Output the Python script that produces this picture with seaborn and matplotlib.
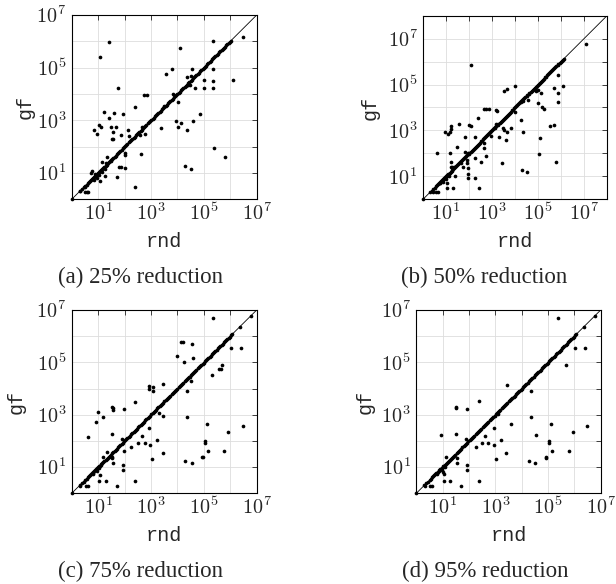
import matplotlib

matplotlib.use("Agg")
import matplotlib.pyplot as plt
import numpy as np
import pandas as pd
import seaborn as sns
from matplotlib.ticker import NullFormatter


# All values are log10 of the counts.
# Points off the diagonal: (rnd, gf) pairs split into two lists.
a_rnd = [1.43, 1.06, 4.10, 5.36, 6.49, 6.12, 3.57, 3.78, 4.56, 4.38, 4.52, 4.99, 5.00,
         5.36, 5.36, 5.36, 4.68, 4.48, 1.75, 2.74, 2.86, 3.85, 4.01, 2.40, 1.24, 1.60,
         1.94, 1.41, 0.86, 0.97, 1.02, 1.11, 1.49, 1.58, 1.68, 1.51, 1.55, 2.12, 2.18,
         1.85, 2.57, 2.77, 2.65, 3.38, 3.95, 4.01, 4.12, 4.60, 4.38, 4.86, 5.37, 5.79,
         4.30, 4.53, 2.64, 2.41, 2.00, 2.02, 2.00, 1.78, 1.85, 1.71, 1.32, 1.15, 1.26,
         1.07, 0.72, 0.78, 0.59, 0.50, 0.63, 0.32, 0.49, 0.85, 0.95, 1.05, 1.16, 1.25,
         0.90, 1.30, 1.50, 3.50, 4.40]
a_gf = [5.97, 5.42, 5.76, 6.01, 6.16, 4.53, 4.76, 4.94, 4.95, 4.63, 4.70, 4.53, 4.22,
        4.94, 4.49, 4.22, 4.22, 4.34, 4.24, 3.97, 3.97, 4.00, 3.68, 3.52, 3.30, 3.27,
        3.23, 3.10, 2.63, 2.47, 2.82, 2.73, 2.75, 2.57, 2.75, 2.28, 2.28, 2.63, 2.42,
        2.46, 2.46, 2.47, 2.75, 2.72, 2.99, 2.75, 2.91, 2.97, 2.63, 3.23, 1.94, 1.62,
        1.27, 1.15, 1.72, 0.48, 1.67, 1.75, 1.19, 1.22, 1.22, 0.85, 1.59, 1.41, 0.90,
        0.68, 1.01, 1.06, 0.29, 0.29, 0.29, 0.30, 0.46, 0.72, 0.80, 0.92, 1.05, 1.15,
        0.97, 1.36, 1.44, 3.56, 4.35]

b_rnd = [7.07, 2.09, 5.87, 5.70, 6.09, 5.87, 5.87, 5.19, 5.25, 5.00, 5.00, 5.14, 4.93,
         3.99, 3.54, 3.67, 4.57, 4.28, 4.35, 4.01, 4.28, 4.35, 5.10, 5.04, 5.80, 5.70,
         5.51, 4.30, 4.52, 3.43, 3.84, 3.67, 3.59, 3.52, 3.49, 3.29, 3.19, 3.12, 3.20,
         3.16, 2.97, 2.74, 2.64, 2.65, 2.51, 2.39, 2.65, 2.75, 2.87, 2.25, 2.25, 1.99,
         2.10, 1.96, 1.81, 1.84, 1.93, 1.93, 1.96, 1.96, 1.96, 1.74, 1.67, 2.25, 2.42,
         1.49, 1.57, 1.20, 1.20, 1.16, 0.97, 1.09, 1.16, 0.62, 1.23, 1.33, 1.38, 1.20,
         1.27, 1.06, 1.29, 1.06, 0.43, 0.58, 0.65, 0.94, 0.72, 0.85, 1.00, 1.12]
b_gf = [6.78, 5.85, 5.41, 4.83, 4.93, 4.62, 4.25, 4.03, 3.93, 4.18, 4.76, 4.62, 4.72,
        4.93, 4.72, 4.79, 4.33, 4.25, 4.30, 3.79, 3.45, 2.92, 2.68, 1.97, 1.64, 3.24,
        3.21, 1.28, 1.18, 1.57, 3.12, 2.92, 2.58, 3.02, 3.12, 2.73, 3.27, 3.12, 3.85,
        3.89, 2.76, 1.89, 2.47, 2.22, 1.64, 3.53, 3.92, 3.92, 3.93, 1.79, 2.73, 3.22,
        3.19, 2.00, 2.73, 2.08, 1.71, 1.56, 1.35, 1.10, 0.91, 1.42, 1.56, 0.91, 0.48,
        2.29, 3.30, 3.21, 3.05, 2.95, 2.95, 2.83, 2.00, 2.00, 1.64, 1.42, 1.02, 1.42,
        1.42, 0.73, 0.48, 0.48, 0.30, 0.30, 0.30, 0.91, 0.73, 0.74, 0.88, 1.02]

c_rnd = [5.36, 4.14, 4.20, 4.54, 3.97, 4.26, 4.58, 6.03, 6.41, 5.67, 5.57, 5.64, 5.30,
         4.48, 4.51, 4.35, 3.47, 2.94, 3.09, 2.94, 3.09, 4.35, 3.32, 3.44, 5.11, 2.94,
         3.24, 3.44, 3.04, 4.29, 4.54, 4.92, 4.95, 5.04, 5.04, 5.17, 5.78, 5.93, 6.49,
         2.40, 1.53, 1.58, 1.56, 1.98, 1.20, 0.98, 0.92, 1.51, 0.63, 1.89, 2.52, 2.65,
         2.77, 2.96, 2.24, 1.99, 1.32, 1.17, 1.51, 1.51, 1.95, 1.95, 1.55, 1.07, 1.30,
         1.05, 1.73, 2.40, 0.63, 0.54, 0.32, 0.80, 0.95, 1.05]
c_gf = [6.68, 5.76, 5.76, 5.69, 5.24, 5.03, 5.15, 5.53, 5.56, 4.90, 4.75, 4.75, 4.52,
        4.45, 4.30, 3.92, 4.16, 4.10, 4.05, 3.97, 3.92, 2.90, 3.05, 2.96, 2.65, 2.49,
        2.04, 1.53, 1.30, 1.25, 1.15, 1.37, 1.37, 2.01, 1.93, 1.63, 1.62, 2.35, 2.57,
        3.50, 3.28, 3.24, 3.20, 3.22, 2.93, 3.10, 2.71, 2.25, 2.16, 2.06, 1.93, 2.19,
        1.91, 1.84, 1.76, 1.62, 1.56, 1.40, 1.40, 1.34, 1.08, 0.89, 1.17, 0.70, 0.47,
        0.47, 0.29, 0.47, 0.29, 0.29, 0.29, 0.72, 0.86, 0.95]

d_rnd = [5.38, 6.01, 6.39, 5.67, 3.46, 4.34, 2.38, 1.49, 1.52, 1.94, 4.34, 3.10, 3.61,
         5.10, 2.95, 0.95, 1.49, 1.90, 2.62, 2.25, 2.48, 2.73, 2.95, 3.23, 4.56, 5.03,
         5.03, 3.42, 3.01, 4.27, 4.52, 4.91, 4.94, 5.15, 5.78, 5.95, 6.49, 1.14, 1.53,
         1.53, 1.94, 1.94, 1.05, 1.05, 1.28, 1.71, 2.38, 0.59, 0.51, 0.32, 0.99, 1.01,
         0.80, 1.10]
d_gf = [6.68, 5.53, 5.56, 4.90, 4.13, 3.92, 3.52, 3.25, 3.31, 3.22, 2.90, 3.03, 2.65,
        2.65, 2.49, 2.23, 2.25, 2.06, 2.19, 1.76, 1.93, 1.91, 1.84, 2.04, 2.23, 2.01,
        1.93, 1.53, 1.30, 1.25, 1.15, 1.37, 1.36, 1.62, 1.62, 2.35, 2.57, 1.40, 1.34,
        1.17, 1.08, 0.89, 0.73, 0.47, 0.47, 0.29, 0.47, 0.29, 0.29, 0.29, 0.89, 0.83,
        0.72, 1.00]

# Points with rnd == gf: the dense run along the diagonal (same in all panels),
# plus the few that sit apart from it in each panel.
diag_run = [0.00, 0.30, 0.38, 0.45, 0.51, 0.56, 0.61, 0.65, 0.69, 0.72, 0.76, 0.79,
            0.82, 0.85, 0.88, 0.91, 0.94, 0.97, 1.00, 1.03, 1.06, 1.09, 1.12, 1.16,
            1.20, 1.24, 1.28, 1.32, 1.36, 1.40, 1.44, 1.48, 1.53, 1.57, 1.62, 1.66,
            1.71, 1.75, 1.80, 1.84, 1.89, 1.93, 1.98, 2.02, 2.07, 2.11, 2.16, 2.20,
            2.25, 2.29, 2.34, 2.38, 2.43, 2.47, 2.52, 2.56, 2.61, 2.65, 2.70, 2.74,
            2.79, 2.83, 2.88, 2.92, 2.97, 3.01, 3.06, 3.10, 3.15, 3.19, 3.24, 3.28,
            3.33, 3.37, 3.42, 3.46, 3.51, 3.55, 3.60, 3.64, 3.69, 3.73, 3.78, 3.82,
            3.87, 3.91, 3.96, 4.00, 4.05, 4.09, 4.14, 4.18, 4.23, 4.27, 4.32, 4.36,
            4.41, 4.45, 4.50, 4.54, 4.59, 4.63, 4.68, 4.72, 4.77, 4.81, 4.86, 4.90,
            4.95, 4.99, 5.04, 5.08, 5.13, 5.17, 5.22, 5.26, 5.31, 5.35, 5.40, 5.44,
            5.49, 5.53, 5.58, 5.62, 5.67, 5.71, 5.76, 5.80, 5.85, 5.89, 5.94, 5.98,
            6.03]
a_diag_extra = []
b_diag_extra = [6.07, 6.11]
c_diag_extra = [6.07, 6.36, 6.78]
d_diag_extra = [6.07, 6.36, 6.78]

captions = ["(a) 25% reduction", "(b) 50% reduction",
            "(c) 75% reduction", "(d) 95% reduction"]
top_exp = [7, 8, 7, 7]
label_exp = [1, 3, 5, 7]
tick_labels = [r"$10^{1}$", r"$10^{3}$", r"$10^{5}$", r"$10^{7}$"]

# axes boxes in pixels of the 616x584 image: left, right, top, bottom
BOXES = [(71.7, 256.7, 15.0, 199.3), (423.0, 607.0, 15.7, 199.3),
         (71.7, 256.7, 310.0, 493.3), (416.3, 600.7, 310.0, 493.3)]
YLABEL_X = [25, 370, 16, 365]
CAPTION_X = [141, 484, 141, 485]
W, H = 616, 584

sns.set_theme(style="white")
plt.rcParams["mathtext.fontset"] = "cm"
plt.rcParams["font.family"] = ["Liberation Serif", "DejaVu Serif"]


def draw_panel(fig, box, rnd, gf, diag, top):
    left, right, upper, lower = box
    ax = fig.add_axes([left / W, 1 - lower / H, (right - left) / W, (lower - upper) / H])
    ax.set_xscale("log")
    ax.set_yscale("log")

    lo, hi = 1.0, 10.0 ** top
    sns.lineplot(x=[lo, hi], y=[lo, hi], color="black", linewidth=0.6, ax=ax)

    pts = pd.DataFrame({
        "rnd": 10.0 ** np.array(rnd + diag),
        "gf": 10.0 ** np.array(gf + diag),
    })
    sns.scatterplot(data=pts, x="rnd", y="gf", s=7, color="black",
                    linewidth=0, ax=ax, clip_on=False, zorder=3)

    ax.set_xlim(lo, hi)
    ax.set_ylim(lo, hi)
    major = [10.0 ** k for k in label_exp]
    minor = [10.0 ** k for k in range(top + 1) if k not in label_exp]
    for axis in (ax.xaxis, ax.yaxis):
        axis.set_ticks(major)
        axis.set_ticklabels(tick_labels)
        axis.set_ticks(minor, minor=True)
        axis.set_minor_formatter(NullFormatter())
    ax.tick_params(which="both", direction="in", top=True, right=True,
                   length=3.5, width=0.6, color="#222222", labelsize=14.5)
    ax.tick_params(axis="x", pad=3)
    ax.tick_params(axis="y", pad=4)
    ax.grid(True, which="both", color="#dddddd", linewidth=0.6)
    ax.set_axisbelow(True)
    for spine in ax.spines.values():
        spine.set_color("black")
        spine.set_linewidth(0.8)
    ax.set_xlabel("")
    ax.set_ylabel("")
    return ax


fig = plt.figure(figsize=(6.16, 5.84), dpi=100)
panels = [(a_rnd, a_gf, diag_run + a_diag_extra), (b_rnd, b_gf, diag_run + b_diag_extra),
          (c_rnd, c_gf, diag_run + c_diag_extra), (d_rnd, d_gf, diag_run + d_diag_extra)]

for i, (rnd, gf, diag) in enumerate(panels):
    box = BOXES[i]
    draw_panel(fig, box, rnd, gf, diag, top_exp[i])
    cx = (box[0] + box[1]) / 2
    fig.text(cx / W, 1 - (box[3] + 42) / H, "rnd", family="Liberation Mono",
             fontsize=14.5, ha="center", va="center")
    fig.text(YLABEL_X[i] / W, 1 - (box[2] + box[3]) / 2 / H, "gf",
             family="Liberation Mono", fontsize=14.5, rotation=90,
             ha="center", va="center")
    fig.text(CAPTION_X[i] / W, 1 - (box[3] + 78) / H, captions[i],
             fontsize=16.5, ha="center", va="center")

fig.savefig("out.png", dpi=100)
plt.close(fig)
